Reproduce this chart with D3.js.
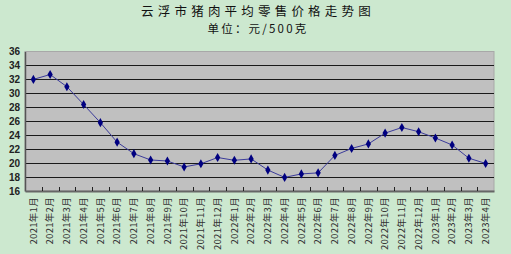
<!DOCTYPE html>
<html><head><meta charset="utf-8">
<script src="https://cdn.jsdelivr.net/npm/d3@7"></script>
<style>html,body{margin:0;padding:0;background:#cce8cf;}svg{display:block;}</style>
</head><body>
<script>
const categories = ["2021年1月","2021年2月","2021年3月","2021年4月","2021年5月","2021年6月","2021年7月","2021年8月","2021年9月","2021年10月","2021年11月","2021年12月","2022年1月","2022年2月","2022年3月","2022年4月","2022年5月","2022年6月","2022年7月","2022年8月","2022年9月","2022年10月","2022年11月","2022年12月","2023年1月","2023年2月","2023年3月","2023年4月"];
const prices = [32.0,32.7,30.95,28.4,25.8,23.0,21.35,20.45,20.3,19.45,19.9,20.8,20.4,20.6,19.0,17.95,18.45,18.6,21.1,22.1,22.75,24.3,25.1,24.5,23.6,22.6,20.7,19.95];
const yTicks = [16,18,20,22,24,26,28,30,32,34,36];
const title = "云浮市猪肉平均零售价格走势图";
const subtitle = "单位：元/500克";

const W = 511, H = 254;
const svg = d3.select("body").append("svg").attr("width", W).attr("height", H);
svg.append("rect").attr("width", W).attr("height", H).attr("fill", "#cce8cf");

const L = 25, R = 494, T = 51.5, B = 191;
const x = d3.scaleBand().domain(categories).range([L, R]);
const y = d3.scaleLinear().domain([16, 36]).range([B, T]);

svg.append("rect").attr("x", L).attr("y", T).attr("width", R - L).attr("height", B - T)
  .attr("fill", "#c0c0c0").attr("stroke", "#a8a8a8").attr("stroke-width", 1);

// gridlines
svg.append("g").selectAll("line").data(yTicks.filter(v => v > 16 && v < 36)).join("line")
  .attr("x1", L).attr("x2", R).attr("y1", d => Math.round(y(d)) + 0.5).attr("y2", d => Math.round(y(d)) + 0.5)
  .attr("stroke", "#1a1a1a").attr("stroke-width", 1);

// y axis
const yAxis = d3.axisLeft(y).tickValues(yTicks).tickSize(0).tickPadding(5);
const gy = svg.append("g").attr("transform", `translate(${L},0)`).call(yAxis);
gy.select(".domain").attr("stroke", "#555").attr("stroke-width", 1.5);
gy.selectAll("text").attr("font-family", "Liberation Sans, Arial, sans-serif").attr("font-size", 10)
  .attr("fill", "#222").attr("font-weight", "bold");

// x axis
const xAxis = d3.axisBottom(x).tickSize(0).tickPadding(0);
const gx = svg.append("g").attr("transform", `translate(0,${B})`).call(xAxis);
gx.select(".domain").attr("stroke", "#666").attr("stroke-width", 2);
gx.selectAll("text").attr("font-family", "Noto Sans CJK SC, sans-serif").attr("font-size", 9.5)
  .attr("fill", "#333").attr("letter-spacing", 0.3)
  .attr("transform", "rotate(-90)").attr("text-anchor", "end").attr("dy", "0.35em").attr("x", -6).attr("y", 0);

// tick marks at band boundaries (pointing up)
const bounds = categories.slice(1).map(c => x(c));
svg.append("g").selectAll("line").data(bounds).join("line")
  .attr("x1", d => Math.round(d) + 0.5).attr("x2", d => Math.round(d) + 0.5)
  .attr("y1", B).attr("y2", B - 4).attr("stroke", "#222").attr("stroke-width", 1);

// line
const line = d3.line().x((d, i) => x(categories[i]) + x.bandwidth() / 2).y(d => y(d));
svg.append("path").datum(prices).attr("d", line).attr("fill", "none")
  .attr("stroke", "#3b3b9a").attr("stroke-width", 1);

svg.append("g").selectAll("path").data(prices).join("path")
  .attr("d", d3.symbol(d3.symbolDiamond, 24))
  .attr("transform", (d, i) => `translate(${x(categories[i]) + x.bandwidth() / 2},${y(d)})`)
  .attr("fill", "#000080");

// titles
svg.append("text").attr("x", 258).attr("y", 16).attr("text-anchor", "middle")
  .attr("font-family", "Noto Sans CJK SC, sans-serif").attr("font-size", 12.5).attr("letter-spacing", 4.2)
  .attr("fill", "#111").text(title);
svg.append("text").attr("x", 258).attr("y", 33).attr("text-anchor", "middle")
  .attr("font-family", "Noto Sans CJK SC, sans-serif").attr("font-size", 11.5).attr("letter-spacing", 2.2)
  .attr("fill", "#111").text(subtitle);
</script>
</body></html>
